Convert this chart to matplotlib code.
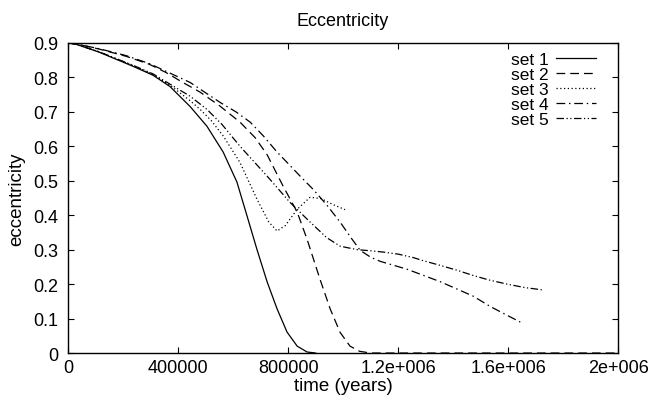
import numpy as np
import matplotlib.pyplot as plt

plt.rcParams['font.family'] = ['Liberation Sans', 'DejaVu Sans']

# Datos (tiempo en años, excentricidad)
t1 = [0, 29000, 113000, 236000, 309000, 371000, 444000, 505000, 564000, 614000,
      651000, 687000, 724000, 760000, 796000, 833000, 869000, 900000]
e1 = [0.9, 0.896, 0.873, 0.832, 0.806, 0.773, 0.715, 0.658, 0.583, 0.496,
      0.397, 0.30, 0.206, 0.128, 0.061, 0.02, 0.003, 0.0]

t2 = [0, 29000, 113000, 211000, 295000, 356000, 411000, 480000, 550000, 625000,
      680000, 724000, 782000, 833000, 869000, 916000, 953000, 989000,
      1025000, 1060000, 1100000, 2000000]
e2 = [0.9, 0.897, 0.882, 0.861, 0.838, 0.814, 0.788, 0.757, 0.718, 0.67,
      0.625, 0.575, 0.484, 0.409, 0.33, 0.214, 0.128, 0.06,
      0.02, 0.005, 0.0, 0.0]

t3 = [0, 29000, 113000, 236000, 309000, 371000, 444000, 480000, 520000, 564000,
      625000, 687000, 730000, 760000, 790000, 833000, 880000, 920000,
      960000, 1007000]
e3 = [0.9, 0.896, 0.874, 0.834, 0.808, 0.777, 0.732, 0.707, 0.675, 0.63,
      0.553, 0.446, 0.38, 0.354, 0.37, 0.417, 0.452, 0.448,
      0.432, 0.416]

t4 = [0, 29000, 113000, 211000, 295000, 371000, 444000, 553000, 610000, 662000,
      710000, 760000, 800000, 844000, 891000, 940000, 989000, 1030000, 1062000,
      1100000, 1135000, 1233000, 1353000, 1473000, 1535000, 1590000, 1644000]
e4 = [0.9, 0.897, 0.883, 0.863, 0.84, 0.812, 0.785, 0.727, 0.70, 0.67,
      0.63, 0.583, 0.55, 0.513, 0.475, 0.43, 0.38, 0.333, 0.298,
      0.278, 0.266, 0.243, 0.207, 0.165, 0.135, 0.112, 0.09]

t5 = [0, 29000, 113000, 236000, 309000, 371000, 444000, 505000, 560000, 625000,
      724000, 807000, 880000, 940000, 989000, 1051000, 1109000, 1145000,
      1200000, 1255000, 1291000, 1350000, 1415000, 1473000, 1530000, 1596000,
      1660000, 1727000]
e5 = [0.9, 0.896, 0.874, 0.835, 0.81, 0.78, 0.745, 0.707, 0.663, 0.60,
      0.513, 0.437, 0.38, 0.335, 0.31, 0.3, 0.296, 0.293,
      0.287, 0.277, 0.268, 0.255, 0.24, 0.225, 0.212, 0.2,
      0.19, 0.183]

series = [(t1, e1, 'set 1', '-'),
          (t2, e2, 'set 2', (0, (7, 4))),
          (t3, e3, 'set 3', (0, (1, 2))),
          (t4, e4, 'set 4', (0, (7, 3, 1.2, 3))),
          (t5, e5, 'set 5', (0, (6, 2, 1, 2, 1, 2)))]

xticks = [0, 400000, 800000, 1200000, 1600000, 2000000]
xlabels = ['0', '400000', '800000', '1.2e+006', '1.6e+006', '2e+006']
yticks = [0, 0.1, 0.2, 0.3, 0.4, 0.5, 0.6, 0.7, 0.8, 0.9]
ylabels = ['0', '0.1', '0.2', '0.3', '0.4', '0.5', '0.6', '0.7', '0.8', '0.9']

fig = plt.figure(figsize=(6.48, 4.06), dpi=100)
ax = fig.add_axes([0.105, 0.128, 0.849, 0.764])

# Una curva por cada conjunto, todas en negro con distinto trazo
for t, e, lab, ls in series:
    ax.plot(t, e, color='black', lw=0.9, linestyle=ls, label=lab)

ax.set_xlim(0, 2000000)
ax.set_ylim(0, 0.9)
ax.set_xticks(xticks)
ax.set_xticklabels(xlabels)
ax.set_yticks(yticks)
ax.set_yticklabels(ylabels)
ax.tick_params(direction='in', top=True, right=True, length=4, labelsize=13)
ax.tick_params(axis='x', pad=4)
ax.tick_params(axis='y', pad=7)
for s in ax.spines.values():
    s.set_linewidth(1.0)

ax.set_title('Eccentricity', fontsize=13, pad=13)
ax.set_xlabel('time (years)', fontsize=13.5, labelpad=1)
ax.set_ylabel('eccentricity', fontsize=13.5, labelpad=6)

ax.legend(loc='upper right', frameon=False, markerfirst=False, fontsize=12.5,
          handlelength=2.3, handletextpad=0.4, labelspacing=0.0,
          borderaxespad=0.1, bbox_to_anchor=(0.975, 1.0))

fig.savefig('out.png', dpi=100)
